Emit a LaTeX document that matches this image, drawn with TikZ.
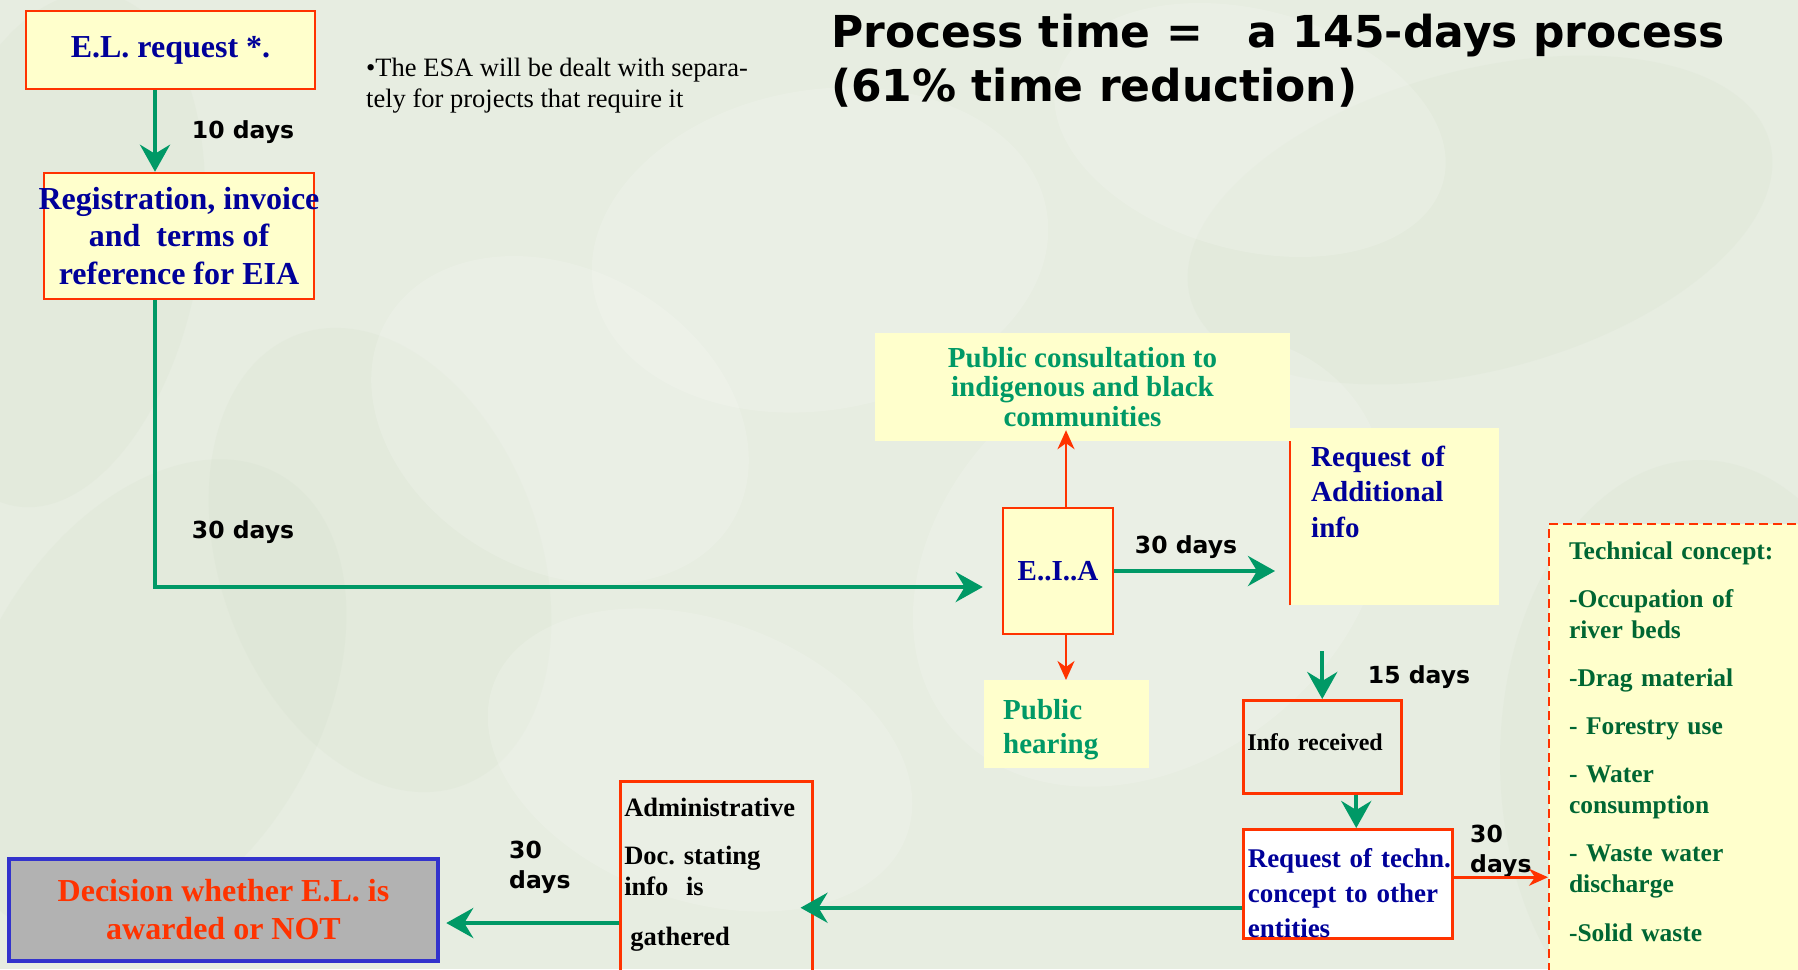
\documentclass[tikz,border=0pt]{standalone}
\usepackage{fontspec}
\setmainfont{Liberation Serif}
\newfontfamily\verd{DejaVu Sans}
\usetikzlibrary{arrows.meta}
\usetikzlibrary{calc}
\frenchspacing

\definecolor{bgleaf}{RGB}{231,237,225}
\definecolor{leafdark}{RGB}{205,218,195}
\definecolor{pale}{RGB}{255,255,204}
\definecolor{orred}{RGB}{255,51,0}
\definecolor{navy}{RGB}{0,0,153}
\definecolor{sea}{RGB}{0,153,102}
\definecolor{pine}{RGB}{0,102,51}
\definecolor{deci}{RGB}{178,178,178}
\definecolor{deciblue}{RGB}{51,51,204}

\begin{document}
\begin{tikzpicture}[x=1pt,y=-1pt]
  % some styles
  \tikzset{
    box/.style={rectangle, draw=orred, line width=2.5pt, fill=pale, inner sep=0pt},
    pad/.style={rectangle, fill=pale, inner sep=0pt},
    days/.style={font=\verd\bfseries\fontsize{23.5}{30}\selectfont, align=left, inner sep=0pt},
    garrow/.style={draw=sea, line width=4pt, -{Stealth[length=27pt,width=30pt,inset=9pt]}},
    rarrow/.style={draw=orred, line width=2.5pt, -{Stealth[length=19pt,width=17pt,inset=6pt]}},
  }
\useasboundingbox (0,0) rectangle (1798,969);
\clip (0,0) rectangle (1798,969);
\fill[bgleaf] (0,0) rectangle (1798,969);
% leaves in the backdrop
\foreach \cx/\cy/\rx/\ry/\ang in {150/700/260/170/60, 380/560/160/240/20, 60/250/140/260/-10,
    1480/220/300/150/15, 1700/760/200/300/0}
  \fill[leafdark, opacity=0.15, rotate around={\ang:(\cx,\cy)}] (\cx,\cy) ellipse ({\rx} and {\ry});
\foreach \cx/\cy/\rx/\ry/\ang in {560/420/200/150/-30, 820/250/230/160/10, 1150/560/260/200/40,
    700/760/220/140/-20, 1250/130/200/120/-15}
  \fill[white, opacity=0.15, rotate around={\ang:(\cx,\cy)}] (\cx,\cy) ellipse ({\rx} and {\ry});

\node[anchor=north west, align=left, inner sep=0pt,
  font=\verd\bfseries\fontsize{44}{54}\selectfont] (title) at (831,14)
  {Process time =\hspace{45pt}a 145-days process\\(61\% time reduction)};
\node[anchor=west, align=left, inner sep=0pt, font=\fontsize{26.5}{31}\selectfont]
  (esanote) at (366,86) {\textbullet The ESA will be dealt with separa-\\tely for projects that require it};

\node[box, minimum width=289pt, minimum height=78pt, text=navy,
  font=\bfseries\fontsize{32}{38}\selectfont] (elreq) at (170.5,50) {E.L. request *.};
\node[box, minimum width=270pt, minimum height=126pt, inner xsep=-6pt, align=center, text=navy,
  font=\bfseries\fontsize{32}{37.5}\selectfont] (regbox) at (179,236)
  {Registration, invoice\\and\ \ terms of\\reference for EIA};

\node[pad, minimum width=415pt, minimum height=108pt, align=center, text=sea,
  font=\bfseries\fontsize{29}{29.5}\selectfont] (consult) at (1082.5,387)
  {Public consultation to\\indigenous and black\\communities};
\node[pad, anchor=north west, inner xsep=21pt, text width=167pt, text height=38pt, text depth=139pt,
  align=left, text=navy, font=\bfseries\fontsize{29}{35.5}\selectfont] (addinfo) at (1290,428)
  {Request of\\Additional\\info};
\node[box, minimum width=110pt, minimum height=126pt, text=navy,
  font=\bfseries\fontsize{29}{34}\selectfont] (eia) at (1058,571) {E..I..A};
\node[pad, anchor=north west, inner xsep=19pt, text width=127pt, text height=39pt, text depth=49pt,
  align=left, text=sea, font=\bfseries\fontsize{29}{34}\selectfont] (hearing) at (984,680)
  {Public\\hearing};

\node[box, fill=none, anchor=north west, inner xsep=4pt, text width=150pt, text height=50pt, text depth=43pt,
  align=left, font=\bfseries\fontsize{24}{29}\selectfont] (inforec) at (1242,699) {Info received};
\node[box, fill=white, anchor=north west, inner xsep=4.5pt, text width=200pt, text height=38pt, text depth=71pt,
  align=left, text=navy, font=\bfseries\fontsize{27}{35}\selectfont] (techbox) at (1242,828)
  {\mbox{Request of techn.}\\concept to other\\entities};
\node[pad, draw=orred, line width=2pt, dash pattern=on 9pt off 5pt, anchor=north west, inner xsep=20pt,
  text width=242pt, text height=35pt, text depth=432pt, align=left, text=pine,
  font=\bfseries\fontsize{25.5}{31}\selectfont] (techcon) at (1548,523)
  {Technical concept:\\[17pt]-Occupation of\\river beds\\[17pt]-Drag material\\[17pt]- Forestry use\\[17pt]- Water\\consumption\\[17pt]- Waste water\\discharge\\[18pt]-Solid waste};

\node[box, fill=none, anchor=north west, inner xsep=4pt, text width=184pt, text height=35pt, text depth=175pt,
  align=left, font=\bfseries\fontsize{26.5}{31}\selectfont] (admin) at (619,780)
  {Administrative\\[17pt]Doc. stating\\info\ \ is\\[19pt]\hspace{6pt}gathered};
\node[rectangle, draw=deciblue, line width=4.5pt, fill=deci, minimum width=429pt, minimum height=102pt,
  align=center, text=orred, font=\bfseries\fontsize{32}{38}\selectfont] (decision) at (223.5,910)
  {Decision whether E.L. is\\awarded or NOT};

\foreach \nm/\px/\py/\txt in {ten/243/132/10 days, thirty/243/532/30 days,
    eiaout/1186/547/30 days, fifteen/1419/677/15 days}
  \node[days] (days-\nm) at (\px,\py) {\txt};
\node[days, anchor=west] (days-techn) at (1470,851) {30\\days};
\node[days, anchor=west] (days-admin) at (509,867) {30\\days};

% flow
\draw[garrow] ([xshift=-15.5pt]elreq.south) -- ([xshift=-15.5pt]elreq.south |- regbox.north);
\draw[garrow, shorten >=19pt] ([xshift=-24pt]regbox.south) |- ([yshift=-16pt]eia.west);
\draw[garrow, shorten >=15pt] (eia.east) -- (addinfo.west |- eia.east);
\draw[rarrow, shorten >=-11pt] ([xshift=8pt]eia.north) -- ([xshift=8pt]eia.north |- consult.south);
\draw[rarrow] ([xshift=8pt]eia.south) -- ([xshift=8pt]eia.south |- hearing.north);
\draw[orred, line width=1.2pt] (addinfo.south west) -- (addinfo.south west |- consult.south);
\draw[garrow, shorten <=46pt] (addinfo.south -| inforec.north) -- (inforec.north);
\draw[garrow] ([xshift=34pt]inforec.south) -- ([xshift=34pt]inforec.south |- techbox.north);
\draw[rarrow] ([yshift=6.5pt]techbox.east) -- ([yshift=6.5pt]techbox.east -| techcon.west);
\draw[garrow, shorten >=-13pt] ([yshift=-24pt]techbox.west) -- ([yshift=-24pt]techbox.west -| admin.east);
\draw[garrow, shorten >=6pt] ([yshift=-13pt]decision.east -| admin.west) -- ([yshift=-13pt]decision.east);
\end{tikzpicture}
\end{document}
